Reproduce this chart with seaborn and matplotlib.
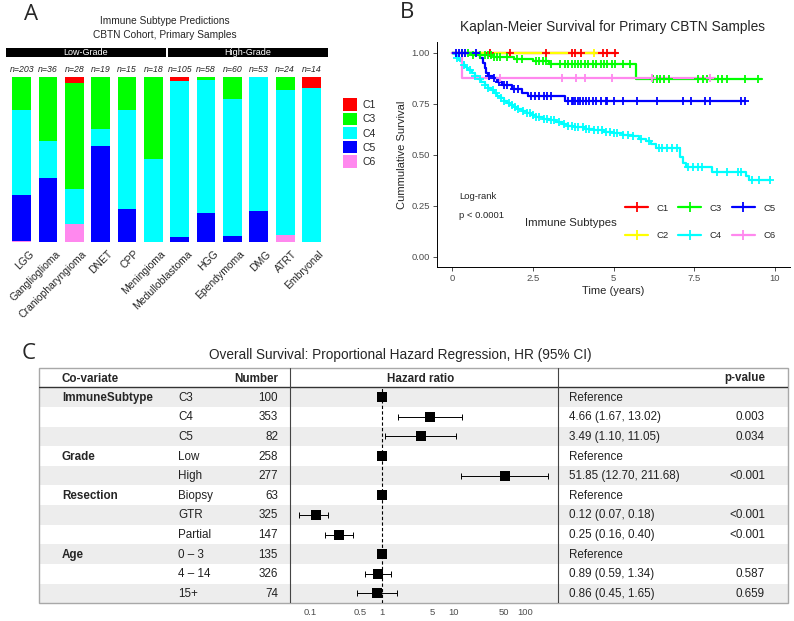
import numpy as np
import pandas as pd
import matplotlib
matplotlib.use("Agg")
import matplotlib.pyplot as plt
import matplotlib.transforms as mtransforms
from matplotlib.lines import Line2D
from matplotlib.patches import Patch, Rectangle
from matplotlib.ticker import NullLocator
import seaborn as sns

# ---------------- Panel A data ----------------
tumor_types = ["LGG", "Ganglioglioma", "Craniopharyngioma", "DNET", "CPP", "Meningioma",
               "Medulloblastoma", "HGG", "Ependymoma", "DMG", "ATRT", "Embryonal"]
n_samples = [203, 36, 28, 19, 15, 18, 105, 58, 60, 53, 24, 14]
c1_counts = [0, 0, 1, 0, 0, 0, 3, 0, 0, 0, 0, 1]
c3_counts = [41, 14, 18, 6, 3, 9, 0, 1, 8, 0, 2, 0]
c4_counts = [105, 8, 6, 2, 9, 9, 99, 47, 50, 43, 21, 13]
c5_counts = [56, 14, 0, 11, 3, 0, 3, 10, 2, 10, 0, 0]
c6_counts = [1, 0, 3, 0, 0, 0, 0, 0, 0, 0, 1, 0]
grade_labels = ["Low-Grade", "High-Grade"]

subtype_colors = {"C1": "#FF0000", "C2": "#FFFF00", "C3": "#00FF00",
                  "C4": "#00FFFF", "C5": "#0000FF", "C6": "#FF88EE"}

# ---------------- Panel B data (Kaplan-Meier) ----------------
km_groups = ["C1", "C2", "C3", "C4", "C5", "C6"]
c1_event_times, c1_event_surv = [], []
c1_censor_times = [1.17, 1.79, 2.9, 3.7, 3.8, 4.0, 4.68, 4.8, 5.05]
c1_last_time = 5.1

c2_event_times, c2_event_surv = [], []
c2_censor_times = [4.4]
c2_last_time = 4.4

c3_event_times = [0.6, 1.3, 1.9, 2.5, 3.0, 5.68]
c3_event_surv = [0.99, 0.98, 0.97, 0.957, 0.946, 0.87]
c3_censor_times = [0.3, 0.5, 0.65, 0.86, 1.0, 1.1, 1.2, 1.3, 1.4, 1.48, 1.68, 1.99, 2.15,
                   2.6, 2.7, 2.8, 2.9, 3.05, 3.35, 3.5, 3.6, 3.7, 3.8, 3.9, 4.0, 4.1, 4.2,
                   4.35, 4.45, 4.6, 4.7, 4.78, 4.95, 5.05, 5.3, 5.5, 6.22, 6.33, 6.45,
                   6.55, 6.7, 7.6, 7.77, 7.88, 8.24, 8.35, 8.5, 9.07, 9.47]
c3_last_time = 9.59

c4_event_times = [0.05, 0.1, 0.15, 0.2, 0.25, 0.3, 0.35, 0.4, 0.45, 0.5, 0.6, 0.7, 0.8, 0.9,
                  1.0, 1.1, 1.2, 1.3, 1.4, 1.5, 1.6, 1.7, 1.8, 1.9, 2.0, 2.15, 2.3, 2.45,
                  2.6, 2.8, 3.0, 3.2, 3.4, 3.6, 3.8, 4.1, 4.4, 4.7, 5.0, 5.3, 5.6, 5.8, 6.0,
                  6.15, 6.3, 7.05, 7.15, 7.25, 8.05, 9.1, 9.2]
c4_event_surv = [0.995, 0.985, 0.975, 0.966, 0.957, 0.948, 0.94, 0.932, 0.924, 0.915, 0.9,
                 0.885, 0.87, 0.856, 0.842, 0.828, 0.815, 0.802, 0.789, 0.777, 0.765, 0.754,
                 0.744, 0.734, 0.725, 0.714, 0.704, 0.695, 0.686, 0.677, 0.668, 0.659, 0.651,
                 0.643, 0.636, 0.628, 0.62, 0.613, 0.606, 0.598, 0.59, 0.578, 0.565, 0.552,
                 0.535, 0.49, 0.457, 0.441, 0.417, 0.395, 0.376]
c4_censor_times = [0.15, 0.35, 0.55, 0.7, 0.85, 1.0, 1.1, 1.25, 1.35, 1.5, 1.6, 1.75, 1.85,
                   1.95, 2.05, 2.2, 2.3, 2.4, 2.5, 2.6, 2.7, 2.85, 2.95, 3.05, 3.15, 3.3,
                   3.45, 3.6, 3.7, 3.8, 3.9, 4.05, 4.15, 4.25, 4.4, 4.5, 4.65, 4.75, 4.9,
                   5.0, 5.1, 5.3, 5.45, 5.6, 5.85, 6.1, 6.4, 6.5, 6.65, 6.8, 6.95, 7.3,
                   7.45, 7.6, 7.75, 8.2, 8.5, 8.85, 8.95, 9.3, 9.5, 9.84]
c4_last_time = 9.84

c5_event_times = [0.85, 0.95, 1.0, 1.05, 1.12, 1.25, 1.4, 1.55, 1.85, 2.15, 2.35, 3.5]
c5_event_surv = [0.975, 0.95, 0.925, 0.9, 0.886, 0.874, 0.858, 0.842, 0.822, 0.803, 0.786, 0.763]
c5_censor_times = [0.1, 0.2, 0.3, 0.4, 0.75, 1.15, 1.3, 1.45, 1.6, 1.7, 1.9, 2.05, 2.45,
                   2.55, 2.7, 2.85, 2.95, 3.05, 3.6, 3.7, 3.75, 3.8, 3.9, 3.95, 4.05, 4.15,
                   4.25, 4.35, 4.45, 4.6, 4.75, 4.8, 5.0, 5.3, 5.71, 6.33, 7.15, 7.39, 7.83,
                   7.98, 8.95, 9.07]
c5_last_time = 9.07

c6_event_times = [0.3]
c6_event_surv = [0.874]
c6_censor_times = [1.48, 3.39, 3.83, 4.12, 4.94, 6.18, 7.98]
c6_last_time = 8.14

logrank_label = "Log-rank"
logrank_p = "p < 0.0001"

# ---------------- Panel C data (Cox regression) ----------------
cov_names = ["ImmuneSubtype", "", "", "Grade", "", "Resection", "", "", "Age", "", ""]
cov_levels = ["C3", "C4", "C5", "Low", "High", "Biopsy", "GTR", "Partial",
              "0 \u2013 3", "4 \u2013 14", "15+"]
cov_numbers = [100, 353, 82, 258, 277, 63, 325, 147, 135, 326, 74]
hr_est = [1, 4.66, 3.49, 1, 51.85, 1, 0.12, 0.25, 1, 0.89, 0.86]
hr_low = [np.nan, 1.67, 1.10, np.nan, 12.70, np.nan, 0.07, 0.16, np.nan, 0.59, 0.45]
hr_high = [np.nan, 13.02, 11.05, np.nan, 211.68, np.nan, 0.18, 0.40, np.nan, 1.34, 1.65]
hr_text = ["Reference", "4.66 (1.67, 13.02)", "3.49 (1.10, 11.05)", "Reference",
           "51.85 (12.70, 211.68)", "Reference", "0.12 (0.07, 0.18)", "0.25 (0.16, 0.40)",
           "Reference", "0.89 (0.59, 1.34)", "0.86 (0.45, 1.65)"]
p_text = ["", "0.003", "0.034", "", "<0.001", "", "<0.001", "<0.001", "", "0.587", "0.659"]
hr_ticks = [0.1, 0.5, 1, 5, 10, 50, 100]
hr_tick_labels = ["0.1", "0.5", "1", "5", "10", "50", "100"]

# ---------------- figure setup ----------------
sns.set_style("white")
plt.rcParams["font.family"] = ["Liberation Sans", "DejaVu Sans"]
W, H = 794, 621
fig = plt.figure(figsize=(W / 100, H / 100), dpi=100)


def box(l, t, r, b):
    return [l / W, 1 - b / H, (r - l) / W, (b - t) / H]


def fx(px):
    return px / W


def fy(py):
    return 1 - py / H


GRAY_TXT = "#4D4D4D"
LETTER_FONT = ["Open Sans", "DejaVu Sans"]

# ================= Panel A =================
axA = fig.add_axes(box(8.5, 76.7, 324.7, 241.7))
dfA = pd.DataFrame({"type": tumor_types, "n": n_samples, "C1": c1_counts, "C3": c3_counts,
                    "C4": c4_counts, "C5": c5_counts, "C6": c6_counts})
bottom = np.zeros(len(tumor_types))
for lab in ["C6", "C5", "C4", "C3", "C1"]:
    frac = dfA[lab].to_numpy() / dfA["n"].to_numpy()
    dfA["frac"] = frac
    sns.barplot(data=dfA, x="type", y="frac", order=tumor_types, color=subtype_colors[lab],
                saturation=1, width=0.71, errorbar=None, bottom=bottom.copy(),
                linewidth=0, ax=axA)
    bottom = bottom + frac
axA.set_xlim(-0.5, len(tumor_types) - 0.5)
axA.set_ylim(0, 1)
axA.set_yticks([])
axA.set_xlabel("")
axA.set_ylabel("")
for sp in axA.spines.values():
    sp.set_visible(False)
axA.set_xticks(range(len(tumor_types)))
axA.set_xticklabels(tumor_types, rotation=45, ha="right", va="top",
                    rotation_mode="anchor", fontsize=7.5)
axA.tick_params(axis="x", length=0, pad=5)
shift = mtransforms.ScaledTranslation(7 / 100, 0, fig.dpi_scale_trans)
for lbl in axA.get_xticklabels():
    lbl.set_transform(lbl.get_transform() + shift)
for i, n in enumerate(n_samples):
    axA.text(i, 1.045, f"n={n}", ha="center", va="center", fontsize=6.3,
             style="italic", clip_on=False)

# grade header bars
for lab, (l, r) in zip(grade_labels, [(5.7, 165.7), (168.3, 327.7)]):
    fig.add_artist(Rectangle((fx(l), fy(57.3)), (r - l) / W, 9.6 / H,
                             transform=fig.transFigure, color="black", lw=0))
    fig.text(fx((l + r) / 2), fy(52.5), lab, color="white", ha="center", va="center",
             fontsize=6.5)
fig.text(fx(165), fy(20.7), "Immune Subtype Predictions", ha="center", va="center", fontsize=7.3)
fig.text(fx(165), fy(35), "CBTN Cohort, Primary Samples", ha="center", va="center", fontsize=7.3)

legA_labels = ["C1", "C3", "C4", "C5", "C6"]
legA_handles = [Patch(facecolor=subtype_colors[k], edgecolor="none") for k in legA_labels]
fig.legend(legA_handles, legA_labels, loc="upper left", bbox_to_anchor=(fx(342.7), fy(98.5)),
           bbox_transform=fig.transFigure, frameon=False, borderpad=0, borderaxespad=0,
           handlelength=1.42, handleheight=1.42, handletextpad=0.45, labelspacing=0.2,
           fontsize=7.5)

# ================= Panel B =================
axB = fig.add_axes(box(436.7, 42.5, 790, 266.7))
km_data = {
    "C1": (c1_event_times, c1_event_surv, c1_censor_times, c1_last_time),
    "C2": (c2_event_times, c2_event_surv, c2_censor_times, c2_last_time),
    "C3": (c3_event_times, c3_event_surv, c3_censor_times, c3_last_time),
    "C4": (c4_event_times, c4_event_surv, c4_censor_times, c4_last_time),
    "C5": (c5_event_times, c5_event_surv, c5_censor_times, c5_last_time),
    "C6": (c6_event_times, c6_event_surv, c6_censor_times, c6_last_time),
}
curves = {}
for g in km_groups:
    et, es, ct, last = km_data[g]
    t = np.r_[0.0, np.asarray(et, float), last]
    s_last = es[-1] if len(es) else 1.0
    s = np.r_[1.0, np.asarray(es, float), s_last]
    curves[g] = (t, s, np.asarray(ct, float))
    dfl = pd.DataFrame({"t": t, "s": s})
    sns.lineplot(data=dfl, x="t", y="s", drawstyle="steps-post", estimator=None, sort=False,
                 color=subtype_colors[g], lw=1.6, ax=axB)
for g in km_groups:
    t, s, ct = curves[g]
    idx = np.searchsorted(t, ct, side="right") - 1
    idx = np.clip(idx, 0, len(s) - 1)
    sns.scatterplot(x=ct, y=s[idx], marker="+", s=40, color=subtype_colors[g],
                    linewidth=1.3, ax=axB, zorder=3, legend=False)
axB.set_xlim(-0.483, 10.465)
axB.set_ylim(-0.049, 1.05)
axB.set_xticks([0, 2.5, 5, 7.5, 10])
axB.set_xticklabels(["0", "2.5", "5", "7.5", "10"])
axB.set_yticks([0, 0.25, 0.5, 0.75, 1.0])
axB.set_yticklabels(["0.00", "0.25", "0.50", "0.75", "1.00"])
axB.tick_params(length=3, width=0.6, color="#333333", labelcolor=GRAY_TXT, labelsize=6.8,
                pad=2, left=True, bottom=True)
axB.set_xlabel("")
axB.set_ylabel("")
for side in ["top", "right"]:
    axB.spines[side].set_visible(False)
for side in ["left", "bottom"]:
    axB.spines[side].set_color("black")
    axB.spines[side].set_linewidth(0.7)
fig.text(fx(613), fy(26.7), "Kaplan-Meier Survival for Primary CBTN Samples", ha="center",
         va="center", fontsize=9.9)
fig.text(fx(401.7), fy(154.5), "Cummulative Survival", rotation=90, ha="center", va="center",
         fontsize=8)
fig.text(fx(613), fy(291), "Time (years)", ha="center", va="center", fontsize=8)
fig.text(fx(459.3), fy(196), logrank_label, ha="left", va="center", fontsize=6.8)
fig.text(fx(459.3), fy(216), logrank_p, ha="left", va="center", fontsize=6.8)
fig.text(fx(525), fy(222.7), "Immune Subtypes", ha="left", va="center", fontsize=8.2)
legB_handles = [Line2D([0], [0], color=subtype_colors[g], lw=1.6, marker="+", markersize=7,
                       mew=1.3) for g in km_groups]
axB.legend(legB_handles, km_groups, ncol=3, loc="upper left",
           bbox_to_anchor=(fx(625), fy(203.6)), bbox_transform=fig.transFigure,
           frameon=False, borderpad=0, borderaxespad=0, handlelength=2.45,
           handletextpad=0.9, columnspacing=1.0, labelspacing=2.0, fontsize=6.8)

# ================= Panel C =================
TL, TT, TR, TB = 39.3, 367.7, 787.7, 603.3
HDR = 387.3
nrows = len(cov_levels)
rh = (TB - HDR) / nrows
axT = fig.add_axes(box(TL, TT, TR, TB))
axT.set_xlim(TL, TR)
axT.set_ylim(TB, TT)
axT.axis("off")
for i in range(nrows):
    if i % 2 == 0:
        axT.add_patch(Rectangle((TL, HDR + i * rh), TR - TL, rh, color="#EDEDED", lw=0))
axT.add_patch(Rectangle((TL, TT), TR - TL, TB - TT, fill=False, edgecolor="#A8A8A8", lw=1.0,
                        clip_on=False))
axT.plot([TL, TR], [HDR, HDR], color="#333333", lw=1.0)
for xv in [290, 557.7]:
    axT.plot([xv, xv], [TT, TB], color="#444444", lw=0.8)
hdr_y = (TT + HDR) / 2 + 1
fs_tab = 8.4
axT.text(62, hdr_y, "Co-variate", ha="left", va="center", fontsize=fs_tab, weight="bold")
axT.text(278, hdr_y, "Number", ha="right", va="center", fontsize=fs_tab, weight="bold")
axT.text(421, hdr_y, "Hazard ratio", ha="center", va="center", fontsize=fs_tab, weight="bold")
axT.text(765, hdr_y, "p-value", ha="right", va="center", fontsize=fs_tab, weight="bold")
for i in range(nrows):
    yc = HDR + (i + 0.5) * rh + 0.5
    if cov_names[i]:
        axT.text(62, yc, cov_names[i], ha="left", va="center", fontsize=fs_tab, weight="bold")
    axT.text(178, yc, cov_levels[i], ha="left", va="center", fontsize=fs_tab, color="#222222")
    axT.text(278, yc, str(cov_numbers[i]), ha="right", va="center", fontsize=fs_tab,
             color="#222222")
    axT.text(569, yc, hr_text[i], ha="left", va="center", fontsize=fs_tab, color="#222222")
    if p_text[i]:
        axT.text(765, yc, p_text[i], ha="right", va="center", fontsize=fs_tab, color="#222222")
fig.text(fx(400), fy(355.5), "Overall Survival: Proportional Hazard Regression, HR (95% CI)",
         ha="center", va="center", fontsize=9.85)

axF = fig.add_axes(box(290, HDR, 557.7, TB))
axF.patch.set_alpha(0)
axF.set_xscale("log")
axF.set_xlim(10 ** -1.279, 10 ** 2.455)
axF.set_ylim(nrows, 0)
rows_c = np.arange(nrows) + 0.5
axF.axvline(1, color="black", lw=0.8, ls=(0, (3, 2)), zorder=1)
hr_e = np.asarray(hr_est, float)
lo = np.asarray(hr_low, float)
hi = np.asarray(hr_high, float)
m = ~np.isnan(lo)
axF.errorbar(hr_e[m], rows_c[m], xerr=[hr_e[m] - lo[m], hi[m] - hr_e[m]], fmt="none",
             ecolor="black", elinewidth=0.7, capsize=2, capthick=0.7, zorder=2)
sns.scatterplot(x=hr_e, y=rows_c, marker="s", s=52, color="black", edgecolor="black",
                linewidth=0, ax=axF, zorder=3, legend=False)
axF.set_xticks(hr_ticks)
axF.set_xticklabels(hr_tick_labels)
axF.xaxis.set_minor_locator(NullLocator())
axF.set_yticks([])
axF.tick_params(axis="x", length=0, pad=3.5, labelsize=6.8, labelcolor=GRAY_TXT)
axF.set_xlabel("")
axF.set_ylabel("")
for sp in axF.spines.values():
    sp.set_visible(False)

# panel letters
fig.text(fx(30.8), fy(14.2), "A", ha="center", va="center", fontsize=16, family=LETTER_FONT)
fig.text(fx(407), fy(12.5), "B", ha="center", va="center", fontsize=16, family=LETTER_FONT)
fig.text(fx(28.8), fy(353.3), "C", ha="center", va="center", fontsize=16, family=LETTER_FONT)

fig.savefig("out.png", dpi=100)
